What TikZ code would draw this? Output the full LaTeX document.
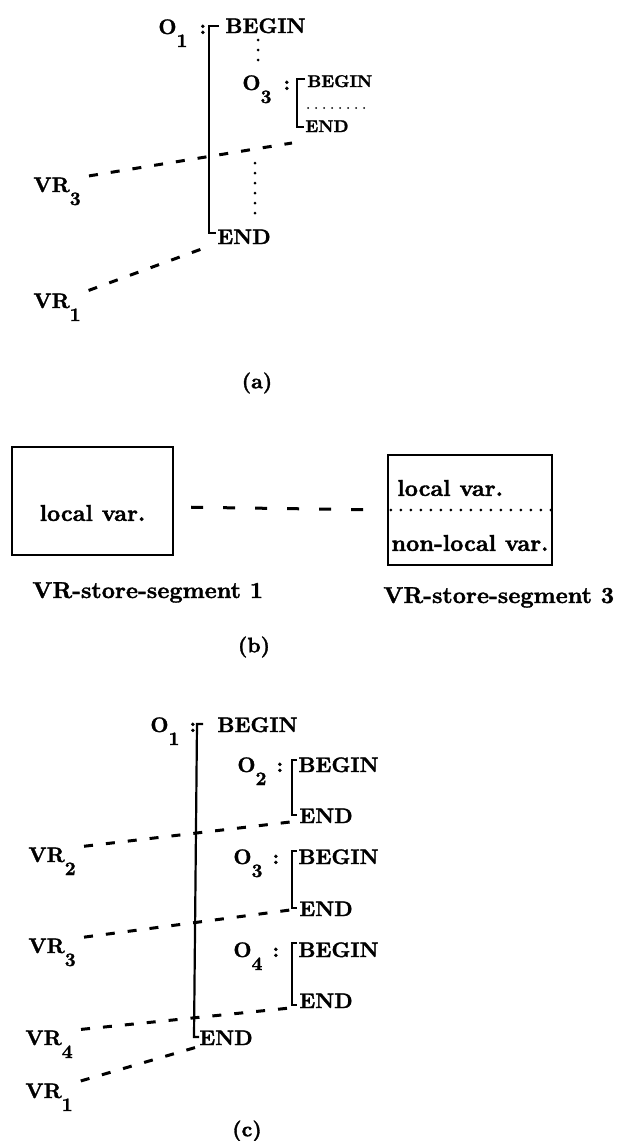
\documentclass[tikz,border=0pt]{standalone}
\usepackage{fontspec}
\usetikzlibrary{positioning}

\newfontfamily\heavyfont{lmroman10-bold.otf}[FakeBold=1.5]
\newcommand{\lowsub}[1]{\raisebox{-6.5pt}{\fontsize{9.5}{10}\selectfont #1}}

\begin{document}
\begin{tikzpicture}[x=0.5pt, y=-0.5pt, inner sep=0pt,
		 every node/.style={font=\fontsize{10.5}{12}\selectfont\heavyfont}]
		 \tikzstyle{word} = [anchor=base west]
		 \tikzstyle{smallword} = [anchor=base west, font=\fontsize{8.5}{10}\selectfont\heavyfont]
		 \tikzstyle{bigger} = [font=\fontsize{11.5}{13}\selectfont\heavyfont]
		 \tikzstyle{bracket} = [draw, line width=1.1pt]
		 \tikzstyle{vrline} = [draw, line width=1.5pt, dash pattern=on 4.5pt off 6.5pt, shorten <=4pt]
		 \tikzstyle{segline} = [draw, line width=1.5pt, dash pattern=on 6pt off 10pt, shorten <=8.5pt, shorten >=5.5pt]
		 \tikzstyle{dots} = [draw, line width=1.5pt, dash pattern=on 0pt off 5pt, line cap=round]
		 \tikzstyle{finedots} = [draw, line width=1pt, dash pattern=on 0pt off 4pt, line cap=round]
		 \tikzstyle{segbox} = [draw, line width=1.1pt]

		 \useasboundingbox (0,0) rectangle (621,1141);

		 % (a)
		 \node [word]      (o1a)  at (158,34)  {O\lowsub{1}\hspace{6pt}:};
		 \node [word]      (b1a)  at (225,33)  {BEGIN};
		 \node [word]      (e1a)  at (217,244) {END};
		 \node [word]      (o3a)  at (242,90)  {O\lowsub{3}\hspace{6pt}:};
		 \node [smallword] (b3a)  at (307,87)  {BEGIN};
		 \node [smallword] (e3a)  at (305,132) {END};
		 \node [word]      (vr3a) at (33,192)  {VR\lowsub{3}};
		 \node [word]      (vr1a) at (33,308)  {VR\lowsub{1}};
		 \node             (capa) at (257,383) {(a)};

		 \coordinate (o1atop) at (209,26);
		 \coordinate (o1abot) at (209,233);
		 \coordinate (o3atop) at (297,79);
		 \coordinate (o3abot) at (297,127);
		 \coordinate (t3a) at (292,143);
		 \coordinate (t1a) at (207,247);

		 \draw [bracket] ([xshift=5pt]o1atop) -- (o1atop) -- (o1abot) -- ([xshift=3.5pt]o1abot);
		 \draw [bracket] ([xshift=4pt]o3atop) -- (o3atop) -- (o3abot) -- ([xshift=3.5pt]o3abot);
		 \draw [dots] (258,40) -- (258,64);
		 \draw [dots] (255,163) -- (255,213);
		 \draw [finedots] (308,108) -- (368,108);

		 \path [vrline] (vr3a.north east) edge (t3a)
		                (vr1a.north east) edge (t1a);

		 % (b)
		 \node [segbox, minimum width=80.5pt, minimum height=54pt] (seg1) at (92.5,501) {};
		 \node [bigger] (loc1) at ([yshift=-6pt]seg1.center) {local var.};
		 \node [segbox, minimum width=82pt, minimum height=55pt]   (seg3) at (470,510) {};
		 \node [bigger, anchor=west] (loc3)    at (397,488) {local var.};
		 \node [bigger, anchor=west] (nonloc3) at (391,543) {non-local var.};
		 \node [bigger, anchor=base west] (name1) at (32,598)  {VR-store-segment 1};
		 \node [bigger, anchor=base west] (name3) at (383,603) {VR-store-segment 3};
		 \node (capb) at (254,647) {(b)};

		 \draw [dots] ([xshift=2pt]seg3.west) -- (seg3.east);
		 \path [segline] ([yshift=-3pt]seg1.east) edge (seg3.west);

		 % (c)
		 \node [word] (o1c)  at (150,732)  {O\lowsub{1}\hspace{5pt}:};
		 \node [word] (b1c)  at (217,732)  {BEGIN};
		 \node [word] (e1c)  at (199,1045) {END};
		 \node [word] (o2c)  at (237,772)  {O\lowsub{2}\hspace{5pt}:};
		 \node [word] (b2c)  at (298,772)  {BEGIN};
		 \node [word] (e2c)  at (299,823)  {END};
		 \node [word] (o3c)  at (233,864)  {O\lowsub{3}\hspace{5pt}:};
		 \node [word] (b3c)  at (298,864)  {BEGIN};
		 \node [word] (e3c)  at (299,916)  {END};
		 \node [word] (o4c)  at (233,957)  {O\lowsub{4}\hspace{5pt}:};
		 \node [word] (b4c)  at (298,957)  {BEGIN};
		 \node [word] (e4c)  at (299,1008) {END};
		 \node [word] (vr2c) at (28,862)   {VR\lowsub{2}};
		 \node [word] (vr3c) at (28,953)   {VR\lowsub{3}};
		 \node [word] (vr4c) at (25,1045)  {VR\lowsub{4}};
		 \node [word] (vr1c) at (25,1098)  {VR\lowsub{1}};
		 \node        (capc) at (247,1131) {(c)};

		 \coordinate (o1ctop) at (197,724);
		 \coordinate (o1cbot) at (194,1037);
		 \coordinate (o2ctop) at (292,760);
		 \coordinate (o2cbot) at (292,815);
		 \coordinate (o3ctop) at (292,851);
		 \coordinate (o3cbot) at (292,908);
		 \coordinate (o4ctop) at (292,943);
		 \coordinate (o4cbot) at (292,1005);
		 \coordinate (t2c) at (290,822);
		 \coordinate (t3c) at (290,910);
		 \coordinate (t4c) at (290,1008);
		 \coordinate (t1c) at (197,1047);

		 \draw [bracket] ([xshift=3pt]o1ctop) -- (o1ctop) -- (o1cbot) -- ([xshift=2.5pt]o1cbot);
		 \draw [bracket] ([xshift=2.5pt]o2ctop) -- (o2ctop) -- (o2cbot) -- ([xshift=2.5pt]o2cbot);
		 \draw [bracket] ([xshift=2.5pt]o3ctop) -- (o3ctop) -- (o3cbot) -- ([xshift=2.5pt]o3cbot);
		 \draw [bracket] ([xshift=2.5pt]o4ctop) -- (o4ctop) -- (o4cbot) -- ([xshift=2.5pt]o4cbot);

		 \path [vrline] (vr2c.north east) edge (t2c)
		                (vr3c.north east) edge (t3c)
		                (vr4c.north east) edge (t4c)
		                (vr1c.north east) edge (t1c);
\end{tikzpicture}
\end{document}
